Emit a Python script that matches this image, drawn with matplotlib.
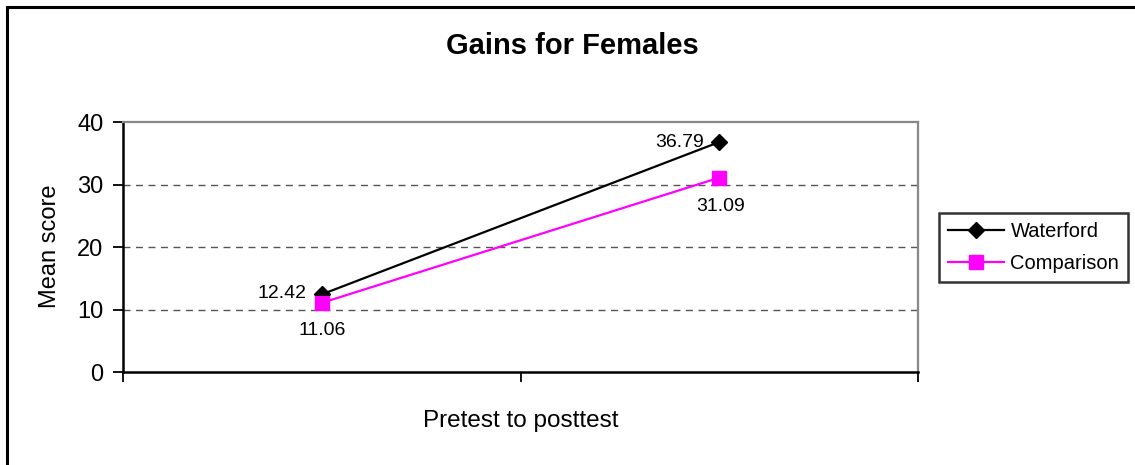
import matplotlib
matplotlib.use("Agg")
import matplotlib.pyplot as plt
from matplotlib.patches import Rectangle

plt.rcParams['font.family'] = ['Liberation Sans', 'DejaVu Sans']

# Data
series_names = ["Waterford", "Comparison"]
pretest_scores = [12.42, 11.06]
posttest_scores = [36.79, 31.09]
y_ticks = [0, 10, 20, 30, 40]

W, H = 1135, 465
fig = plt.figure(figsize=(W / 100, H / 100), dpi=100)

# Outer chart frame (extends past the right/bottom edge)
fig.patches.append(Rectangle((6.5 / W, -0.05), 1.2, 1 - 6.5 / H + 0.05,
                             transform=fig.transFigure, fill=False,
                             edgecolor="black", linewidth=2.2))

ax = fig.add_axes([123 / W, 1 - 372 / H, (918 - 123) / W, (372 - 122) / H])

xs = [0.5, 1.5]
styles = [dict(color="black", marker="D", markersize=8, linewidth=1.6),
          dict(color="#ff00ff", marker="s", markersize=10.5, linewidth=1.6)]
for name, pre, post, st in zip(series_names, pretest_scores, posttest_scores, styles):
    ax.plot(xs, [pre, post], label=name, zorder=3, clip_on=False, **st)

# Value labels
lbl = dict(textcoords="offset points", va="center", fontsize=14)
ax.annotate(f"{pretest_scores[0]:.2f}", (xs[0], pretest_scores[0]), xytext=(-11, 0.5),
            ha="right", **lbl)
ax.annotate(f"{posttest_scores[0]:.2f}", (xs[1], posttest_scores[0]), xytext=(-11, 0),
            ha="right", **lbl)
ax.annotate(f"{pretest_scores[1]:.2f}", (xs[0], pretest_scores[1]), xytext=(0, -20),
            ha="center", **lbl)
ax.annotate(f"{posttest_scores[1]:.2f}", (xs[1], posttest_scores[1]), xytext=(1, -21),
            ha="center", **lbl)

ax.set_xlim(0, 2)
ax.set_ylim(0, 40)
ax.set_yticks(y_ticks)
ax.set_yticklabels([str(t) for t in y_ticks], fontsize=17)
ax.set_xticks([0, 1, 2])
ax.set_xticklabels(["", "", ""])
ax.tick_params(axis="y", direction="out", length=7, width=1.3, pad=7)
ax.tick_params(axis="x", direction="out", length=7, width=1.3)

for y in y_ticks[1:-1]:
    ax.axhline(y, color="#555555", linestyle=(0, (5, 4)), linewidth=1.0, zorder=1)

for side in ("left", "bottom"):
    ax.spines[side].set_color("black")
    ax.spines[side].set_linewidth(1.8)
for side in ("top", "right"):
    ax.spines[side].set_color("#888888")
    ax.spines[side].set_linewidth(1.6)

ax.set_ylabel("Mean score", fontsize=17, va="center")
ax.yaxis.set_label_coords(-73 / 795, (372 - 246) / 250)
ax.set_xlabel("Pretest to posttest", fontsize=17.5, va="center")
ax.xaxis.set_label_coords(0.5, (372 - 421) / 250)

fig.text(572 / W, 1 - 54 / H, "Gains for Females", ha="center", va="baseline",
         fontsize=21, fontweight="bold")

leg = ax.legend(loc="upper left", bbox_to_anchor=(939 / W, 1 - 213 / H),
                bbox_transform=fig.transFigure, fontsize=14.5, frameon=True,
                fancybox=False, borderpad=0.45, handlelength=2.8,
                handletextpad=0.3, labelspacing=0.65, borderaxespad=0)
leg.get_frame().set_edgecolor("black")
leg.get_frame().set_linewidth(1.8)

fig.savefig("out.png", dpi=100)
